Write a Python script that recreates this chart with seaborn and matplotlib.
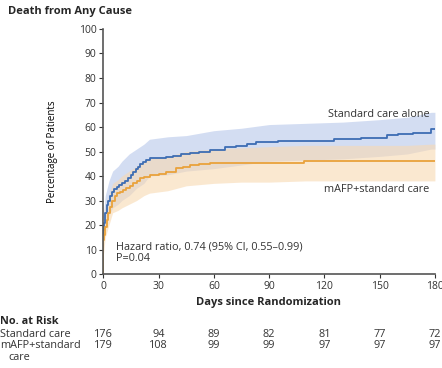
import numpy as np
import pandas as pd
import seaborn as sns
import matplotlib
matplotlib.use("Agg")
import matplotlib.pyplot as plt
from matplotlib.transforms import blended_transform_factory

# Kaplan-Meier style curves (days, cumulative % dead)
std_t = [0, 0.01, 0.3, 0.6, 1, 1.7, 2.5, 3.5, 4.4, 5.5, 7.1, 8.5, 9.9, 11.5, 13.5, 15, 16.2,
         17.5, 18.9, 20, 21.6, 23, 25.2, 34, 38, 42, 47, 52, 58, 66, 72, 78, 83, 95, 106,
         125, 140, 154, 160, 168, 178, 180]
std_y = [0, 18, 21, 23, 25, 28, 30, 32, 33.6, 34.5, 35.6, 36.2, 37, 38, 39, 40.5, 41.8,
         43, 43.8, 45, 45.8, 46.5, 47.3, 47.7, 48.3, 49, 49.3, 50, 50.6, 51.8, 52.3, 53,
         53.9, 54.2, 54.4, 55, 55.5, 56.7, 57, 57.7, 59, 59]

mafp_t = [0, 0.01, 0.5, 1, 1.7, 2.5, 3.5, 4.5, 6.2, 7.5, 8.9, 10.5, 12.5, 14.5, 16.2, 18,
          19.8, 22, 25.2, 30, 34, 39.6, 43, 47, 52, 58, 75, 109, 180]
mafp_y = [0, 14, 16, 19, 22, 25, 27.5, 30, 32, 33, 33.6, 34.3, 35, 36, 37, 38,
          39, 39.7, 40.4, 41, 41.8, 43.1, 43.8, 44.5, 44.8, 45.2, 45.4, 46.2, 46.2]

# 95% confidence bands
ci_t = [0, 1, 3, 5, 8, 10, 14, 18, 22, 25, 35, 45, 60, 75, 90, 110, 130, 150, 165, 178, 180]
std_hi = [24, 32, 38, 42, 44, 46, 49, 51, 53, 55, 56, 56.5, 58.5, 59.5, 61, 61.5, 62, 63, 64, 66, 66]
std_lo = [14, 20, 24, 27, 28.5, 30, 32, 35, 37, 40, 40.5, 42, 43, 44.5, 46, 46.5, 47, 48, 49, 51, 51]
mafp_hi = [17, 27, 32, 37, 38.5, 40, 42, 44, 46, 47, 48, 50, 51, 51.5, 52, 52.5, 52.5, 52.5, 52.5, 53, 53]
mafp_lo = [8, 15, 20, 25, 26, 27, 28.5, 30, 32, 33, 34, 36, 37, 37.5, 37.5, 38, 38, 38, 38, 38, 38]

risk_days = [0, 30, 60, 90, 120, 150, 180]
risk_std = [176, 94, 89, 82, 81, 77, 72]
risk_mafp = [179, 108, 99, 99, 97, 97, 97]

blue = "#3d6db3"
orange = "#e9a23b"
txt = "#333333"

sns.set_style("ticks")
plt.rcParams['font.family'] = ['Open Sans', 'DejaVu Sans']

W, H = 442, 368
fig = plt.figure(figsize=(W / 100, H / 100), dpi=100)
ax = fig.add_axes([0.234, 0.2554, 0.75, 0.6658])

def fy(py):
    return 1 - py / H

ax.fill_between(ci_t, std_lo, std_hi, color="#bccbec", alpha=0.65, lw=0)
ax.fill_between(ci_t, mafp_lo, mafp_hi, color="#f8d9b2", alpha=0.6, lw=0)

df_std = pd.DataFrame({"day": std_t, "pct": std_y})
df_mafp = pd.DataFrame({"day": mafp_t, "pct": mafp_y})
sns.lineplot(data=df_std, x="day", y="pct", ax=ax, color=blue, lw=1.3,
             drawstyle="steps-post", estimator=None)
sns.lineplot(data=df_mafp, x="day", y="pct", ax=ax, color=orange, lw=1.3,
             drawstyle="steps-post", estimator=None)

ax.set_xlim(0, 180)
ax.set_ylim(0, 100)
ax.set_xticks(risk_days)
ax.set_yticks(range(0, 101, 10))
ax.tick_params(labelsize=7.5, colors=txt, length=3, width=0.8, pad=2)
sns.despine(ax=ax)
for s in ("left", "bottom"):
    ax.spines[s].set_color("#555555")
    ax.spines[s].set_linewidth(1.2)

ax.set_xlabel("")
ax.set_ylabel("Percentage of Patients", fontsize=7, color="black")
ax.yaxis.set_label_coords(-0.137, 0.5)

fig.text(8 / W, fy(11.5), "Death from Any Cause", fontsize=8, fontweight="bold",
         va="center", ha="left")
fig.text(269 / W, fy(302), "Days since Randomization", fontsize=8,
         fontweight="bold", ha="center", va="center")

ax.text(177, 63, "Standard care alone", fontsize=7.8, color=txt, ha="right", va="bottom")
ax.text(177, 34.5, "mAFP+standard care", fontsize=7.8, color=txt, ha="right", va="center")
ax.text(7, 11, "Hazard ratio, 0.74 (95% CI, 0.55\u20130.99)", fontsize=7.8, color=txt,
        ha="left", va="center")
ax.text(7, 6.3, "P=0.04", fontsize=7.8, color=txt, ha="left", va="center")

# risk table
fs = 7.8
fig.text(0, fy(321), "No. at Risk", fontsize=fs, fontweight="bold", va="center")
fig.text(0, fy(334.5), "Standard care", fontsize=fs, color=txt, va="center")
fig.text(0, fy(346), "mAFP+standard", fontsize=fs, color=txt, va="center")
fig.text(8 / W, fy(357.5), "care", fontsize=fs, color=txt, va="center")
tr = blended_transform_factory(ax.transData, fig.transFigure)
for d, a, b in zip(risk_days, risk_std, risk_mafp):
    ax.text(d, fy(334.5), str(a), transform=tr, fontsize=fs, color=txt,
            ha="center", va="center", clip_on=False)
    ax.text(d, fy(346), str(b), transform=tr, fontsize=fs, color=txt,
            ha="center", va="center", clip_on=False)

fig.savefig("out.png", dpi=100)
